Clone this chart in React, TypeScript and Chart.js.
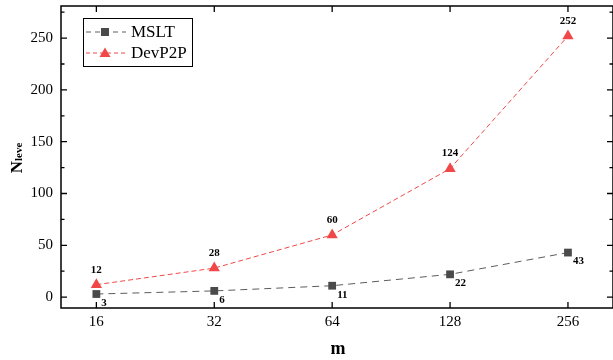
import React, { useEffect, useRef } from "react";
import { Chart, registerables } from "chart.js";

Chart.register(...registerables);

const mValues = [16, 32, 64, 128, 256];
const msltValues = [3, 6, 11, 22, 43];
const devp2pValues = [12, 28, 60, 124, 252];
const yTicks = [0, 50, 100, 150, 200, 250];
const seriesNames = ["MSLT", "DevP2P"];

const GRAY = "#4a4a4a";
const GRAY_LINE = "#5c5c5c";
const RED = "#f04848";
const SERIF = "'Liberation Serif', 'DejaVu Serif', serif";

const framePlugin = {
  id: "framePlugin",
  afterDraw(chart: any) {
    const { ctx, chartArea } = chart;
    const { left, right, top, bottom } = chartArea;
    const xs = chart.scales.x;
    const ys = chart.scales.y;
    ctx.save();
    ctx.strokeStyle = "#000";
    ctx.lineWidth = 1.5;
    ctx.strokeRect(left, top, right - left, bottom - top);
    ctx.lineWidth = 1.3;
    ctx.beginPath();
    mValues.forEach((m) => {
      const x = xs.getPixelForValue(Math.log2(m));
      ctx.moveTo(x, bottom);
      ctx.lineTo(x, bottom - 6);
      ctx.moveTo(x, top);
      ctx.lineTo(x, top + 6);
    });
    for (let v = 0; v <= 275; v += 25) {
      const y = ys.getPixelForValue(v);
      const len = v % 50 === 0 ? 6 : 3.5;
      ctx.moveTo(left, y);
      ctx.lineTo(left + len, y);
      ctx.moveTo(right, y);
      ctx.lineTo(right - len, y);
    }
    ctx.stroke();

    // tick labels
    ctx.fillStyle = "#000";
    ctx.font = `15px ${SERIF}`;
    ctx.textAlign = "center";
    ctx.textBaseline = "middle";
    mValues.forEach((m) => {
      const x = xs.getPixelForValue(Math.log2(m));
      ctx.fillText(String(m), x, bottom + 14);
    });
    ctx.textAlign = "right";
    yTicks.forEach((v) => {
      ctx.fillText(String(v), left - 8, ys.getPixelForValue(v));
    });

    // axis titles
    ctx.font = `bold 18px ${SERIF}`;
    ctx.textAlign = "center";
    ctx.fillText("m", (left + right) / 2 + 1, 349);

    ctx.translate(22, 158);
    ctx.rotate(-Math.PI / 2);
    ctx.textBaseline = "alphabetic";
    ctx.textAlign = "left";
    ctx.font = `bold 17px ${SERIF}`;
    const nW = ctx.measureText("N").width;
    ctx.font = `bold 11px ${SERIF}`;
    const sW = ctx.measureText("leve").width;
    const total = nW + sW;
    ctx.font = `bold 17px ${SERIF}`;
    ctx.fillText("N", -total / 2, 0);
    ctx.font = `bold 11px ${SERIF}`;
    ctx.fillText("leve", -total / 2 + nW, 0);
    ctx.restore();

    // legend
    ctx.save();
    const lx = 83, ly = 18, lw = 109, lh = 48;
    ctx.fillStyle = "#fff";
    ctx.fillRect(lx, ly, lw, lh);
    ctx.strokeStyle = "#000";
    ctx.lineWidth = 1;
    ctx.strokeRect(lx + 0.5, ly + 0.5, lw, lh);
    const rows = [
      { y: 32, color: GRAY_LINE, fill: GRAY, dash: [5, 4], shape: "rect" },
      { y: 53, color: RED, fill: RED, dash: [4, 3], shape: "tri" },
    ];
    rows.forEach((r, i) => {
      ctx.strokeStyle = r.color;
      ctx.lineWidth = 1;
      ctx.setLineDash(r.dash);
      ctx.beginPath();
      ctx.moveTo(86, r.y);
      ctx.lineTo(126, r.y);
      ctx.stroke();
      ctx.setLineDash([]);
      ctx.fillStyle = r.fill;
      if (r.shape === "rect") {
        ctx.fillRect(105 - 4, r.y - 4, 8, 8);
      } else {
        ctx.beginPath();
        ctx.moveTo(105, r.y - 5.5);
        ctx.lineTo(110.5, r.y + 4);
        ctx.lineTo(99.5, r.y + 4);
        ctx.closePath();
        ctx.fill();
      }
      ctx.fillStyle = "#000";
      ctx.font = `17px ${SERIF}`;
      ctx.textAlign = "left";
      ctx.textBaseline = "middle";
      ctx.fillText(seriesNames[i], 131, r.y + 1);
    });
    ctx.restore();
  },
  afterDatasetsDraw(chart: any) {
    const { ctx } = chart;
    ctx.save();
    ctx.font = `bold 11px ${SERIF}`;
    ctx.fillStyle = "#000";
    const meta0 = chart.getDatasetMeta(0);
    const meta1 = chart.getDatasetMeta(1);
    ctx.textAlign = "left";
    ctx.textBaseline = "middle";
    meta0.data.forEach((p: any, i: number) => {
      ctx.fillText(String(msltValues[i]), p.x + 5, p.y + 9);
    });
    ctx.textAlign = "center";
    meta1.data.forEach((p: any, i: number) => {
      ctx.fillText(String(devp2pValues[i]), p.x, p.y - 15);
    });
    ctx.restore();
  },
};

export default function App() {
  const ref = useRef<HTMLCanvasElement>(null);
  useEffect(() => {
    document.body.style.margin = "0";
    const canvas = ref.current!;
    const chart = new Chart(canvas, {
      type: "line",
      data: {
        datasets: [
          {
            label: seriesNames[0],
            data: mValues.map((m, i) => ({ x: Math.log2(m), y: msltValues[i] })),
            borderColor: GRAY_LINE,
            backgroundColor: GRAY,
            borderWidth: 1,
            borderDash: [7, 5],
            pointStyle: "rect",
            pointRadius: 5.5,
            pointBorderWidth: 0,
            pointBackgroundColor: GRAY,
            tension: 0,
          },
          {
            label: seriesNames[1],
            data: mValues.map((m, i) => ({ x: Math.log2(m), y: devp2pValues[i] })),
            borderColor: RED,
            backgroundColor: RED,
            borderWidth: 1,
            borderDash: [5, 3],
            pointStyle: "triangle",
            pointRadius: 6.5,
            pointBorderWidth: 0,
            pointBackgroundColor: RED,
            tension: 0,
          },
        ],
      },
      options: {
        animation: false,
        responsive: false,
        maintainAspectRatio: false,
        layout: { autoPadding: false, padding: { left: 61, right: 0, top: 6, bottom: 52 } },
        plugins: { legend: { display: false }, tooltip: { enabled: false } },
        scales: {
          x: {
            type: "linear",
            min: 3.7,
            max: 8.382,
            grid: { display: false, drawTicks: false },
            border: { display: false },
            ticks: { display: false },
            afterFit: (s: any) => {
              s.height = 0;
              s.paddingLeft = 0;
              s.paddingRight = 0;
              s.paddingTop = 0;
              s.paddingBottom = 0;
            },
          },
          y: {
            type: "linear",
            min: -10.5,
            max: 281,
            grid: { display: false, drawTicks: false },
            border: { display: false },
            ticks: { display: false },
            afterFit: (s: any) => {
              s.width = 0;
              s.paddingLeft = 0;
              s.paddingRight = 0;
              s.paddingTop = 0;
              s.paddingBottom = 0;
            },
          },
        },
      },
      plugins: [framePlugin],
    } as any);
    return () => chart.destroy();
  }, []);
  return (
    <div style={{ width: 613, height: 360, background: "#fff" }}>
      <canvas ref={ref} width={613} height={360} style={{ display: "block" }} />
    </div>
  );
}
